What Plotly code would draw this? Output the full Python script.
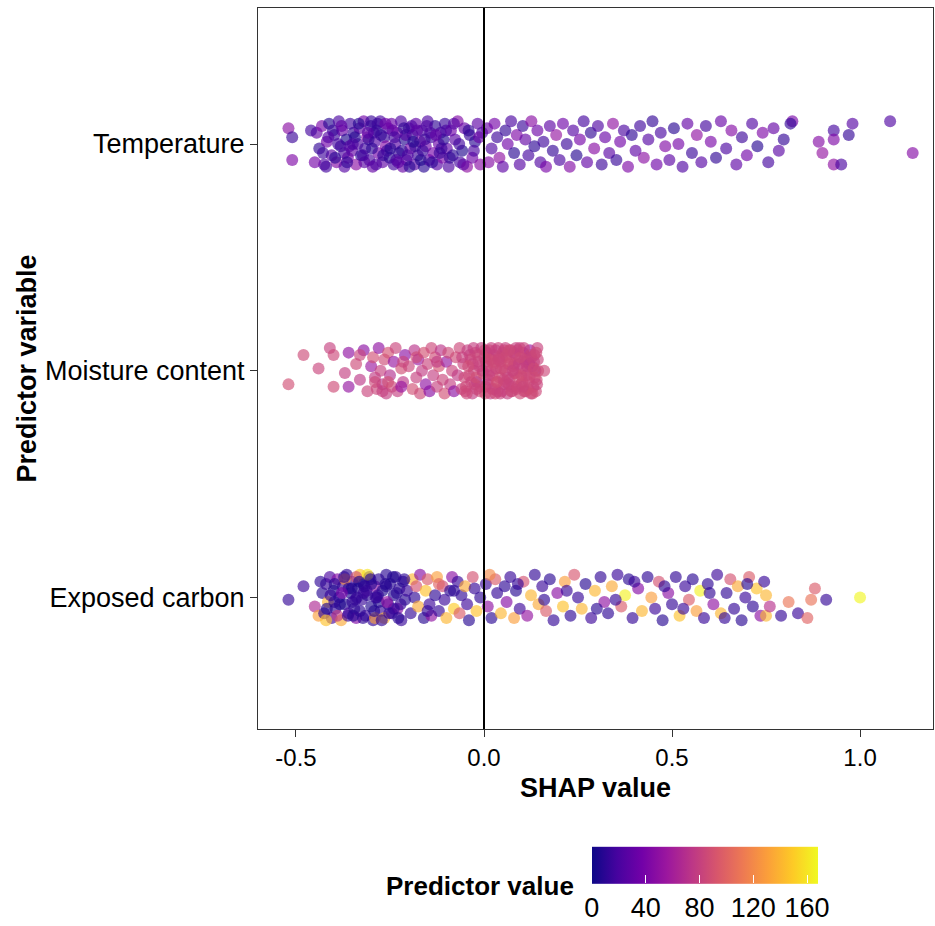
import plotly.graph_objects as go

categories = ["Exposed carbon", "Moisture content", "Temperature"]

# ---------------- Temperature ----------------
temp_shap = [
    -0.445, -0.438, -0.431, -0.425, -0.418, -0.412, -0.405, -0.398, -0.392, -0.386,
    -0.381, -0.377, -0.371, -0.366, -0.362, -0.356, -0.351, -0.347, -0.340, -0.336,
    -0.331, -0.327, -0.320, -0.316, -0.311, -0.305, -0.301, -0.296, -0.290, -0.285,
    -0.281, -0.276, -0.270, -0.266, -0.261, -0.255, -0.251, -0.246, -0.240, -0.236,
    -0.231, -0.226, -0.221, -0.216, -0.211, -0.206, -0.200, -0.196, -0.190, -0.185,
    -0.181, -0.176, -0.170, -0.165, -0.160, -0.155, -0.150, -0.146, -0.140, -0.135,
    -0.130, -0.125, -0.120, -0.115, -0.110, -0.104, -0.099, -0.094, -0.088, -0.083,
    -0.077, -0.070, -0.064, -0.058, -0.052, -0.045, -0.038, -0.031, -0.024, -0.017,
    -0.010, -0.005, -0.402, -0.372, -0.343, -0.318, -0.293, -0.268, -0.243, -0.218,
    -0.193, -0.168, -0.143, -0.118, -0.358, -0.307, -0.258, -0.208, -0.158, -0.108,
    -0.388, -0.233, -0.283, -0.183,
    0.008, 0.012, 0.020, 0.028, 0.035, 0.041, 0.050, 0.057, 0.063, 0.072,
    0.080, 0.087, 0.095, 0.103, 0.110, 0.118, 0.126, 0.134, 0.142, 0.150,
    0.158, 0.165, 0.175, 0.183, 0.192, 0.201, 0.210, 0.220, 0.228, 0.237,
    0.246, 0.255, 0.265, 0.274, 0.284, 0.293, 0.303, 0.313, 0.322, 0.333,
    0.343, 0.352, 0.362, 0.372, 0.383, 0.393, 0.403, 0.415, 0.425, 0.437,
    0.448, 0.459, 0.470, 0.482, 0.493, 0.505, 0.517, 0.528, 0.541, 0.553,
    0.566, 0.578, 0.590, 0.603, 0.617, 0.630, 0.644, 0.658, 0.671, 0.686,
    0.699, 0.713, 0.727, 0.741, 0.756, 0.770, 0.784, 0.797,
    0.820, 0.815, 0.890, 0.900, 0.930, 0.930, 0.930, 0.950, 0.980, 0.970,
    1.080, 1.140, -0.520, -0.510, -0.510, -0.460, -0.450,
    -0.428, -0.414, -0.396, -0.379, -0.364, -0.349, -0.333, -0.322, -0.309, -0.298,
    -0.287, -0.274, -0.262, -0.249, -0.238, -0.228, -0.213, -0.203, -0.188, -0.178,
    -0.163, -0.152, -0.138, -0.128, -0.113, -0.101, -0.091, -0.080, -0.066, -0.055,
    -0.041, -0.027, -0.013, -0.420, -0.300, -0.198,
]
temp_jitter = [
    0.05, -0.02, 0.08, -0.09, 0.01, 0.09, -0.05, 0.04, -0.08, 0.10,
    -0.01, 0.06, -0.10, 0.02, -0.06, 0.09, -0.03, 0.05, -0.09, 0.00,
    0.07, -0.05, 0.10, -0.02, 0.03, -0.07, 0.08, -0.10, 0.01, 0.06,
    -0.04, 0.10, -0.08, 0.03, -0.01, 0.07, -0.06, 0.09, -0.09, 0.00,
    0.05, -0.04, 0.10, -0.10, 0.02, -0.07, 0.07, -0.02, 0.04, -0.09,
    0.09, -0.05, 0.01, 0.06, -0.10, -0.01, 0.10, -0.07, 0.03, -0.04,
    0.08, -0.09, 0.00, 0.05, -0.06, 0.09, -0.02, -0.10, 0.06, -0.05,
    0.02, 0.10, -0.08, -0.03, 0.07, -0.10, 0.04, -0.06, 0.01, 0.09,
    -0.09, 0.05, 0.06, -0.04, 0.03, -0.08, 0.05, -0.05, 0.06, -0.03,
    0.08, -0.07, 0.05, -0.04, -0.01, 0.02, -0.03, 0.04, 0.02, 0.02,
    0.00, -0.07, 0.09, -0.01,
    0.07, -0.08, -0.02, 0.09, 0.03, -0.06, -0.10, 0.06, 0.00, 0.10,
    -0.04, 0.04, -0.09, 0.08, 0.02, -0.05, 0.10, -0.01, 0.06, -0.08,
    0.01, -0.10, 0.08, -0.03, 0.04, -0.07, 0.09, 0.00, -0.10, 0.06,
    -0.05, 0.02, 0.10, -0.08, 0.05, -0.02, 0.08, -0.09, 0.03, -0.04,
    0.09, -0.07, 0.01, 0.06, -0.10, 0.04, -0.03, 0.08, -0.06, 0.02,
    0.10, -0.09, 0.05, -0.01, -0.07, 0.07, 0.00, -0.10, 0.09, -0.04,
    0.04, -0.08, 0.08, 0.01, -0.06, 0.10, -0.02, 0.06, -0.09, 0.03,
    -0.05, 0.09, -0.01, 0.05, -0.08, 0.07, -0.03, 0.02,
    0.10, 0.09, 0.01, -0.04, 0.06, 0.02, -0.09, -0.09, 0.09, 0.04,
    0.10, -0.04, 0.07, 0.03, -0.07, 0.06, -0.08,
    -0.04, 0.03, -0.06, 0.08, -0.08, 0.00, 0.09, -0.05, 0.05, -0.02,
    -0.09, 0.04, 0.09, -0.02, 0.03, -0.08, 0.07, -0.05, 0.01, 0.06,
    -0.03, 0.08, -0.08, 0.04, -0.02, 0.06, -0.06, 0.09, 0.00, -0.09,
    0.06, -0.03, 0.03, -0.10, 0.10, -0.10,
]
temp_value = [
    30, 12, 40, 22, 35, 8, 28, 15, 44, 20,
    10, 33, 25, 6, 38, 18, 30, 12, 48, 22,
    27, 9, 36, 16, 42, 20, 11, 31, 24, 5,
    37, 19, 29, 14, 45, 21, 8, 34, 17, 26,
    40, 13, 23, 32, 7, 28, 18, 39, 12, 25,
    30, 15, 43, 20, 9, 35, 22, 27, 16, 38,
    11, 24, 33, 19, 41, 14, 29, 21, 36, 10,
    26, 44, 18, 6, 31, 50, 13, 35, 9, 28,
    46, 20, 14, 20, 8, 26, 17, 12, 30, 10,
    22, 6, 19, 13, 24, 11, 16, 25, 15, 8,
    18, 20, 14, 12,
    32, 45, 22, 38, 15, 50, 28, 12, 36, 20,
    9, 42, 25, 14, 30, 18, 47, 10, 34, 23,
    16, 40, 27, 12, 52, 20, 35, 14, 44, 24,
    8, 38, 18, 30, 11, 46, 22, 15, 33, 26,
    50, 13, 37, 20, 42, 10, 28, 16, 48, 24,
    12, 35, 19, 44, 27, 9, 38, 22, 31, 14,
    50, 25, 17, 40, 11, 33, 20, 45, 28, 15,
    37, 23, 8, 42, 18, 31, 26, 12,
    40, 12, 45, 52, 18, 42, 50, 20, 25, 12,
    22, 45, 48, 15, 42, 18, 38,
    16, 24, 9, 30, 12, 20, 7, 18, 28, 10,
    22, 13, 35, 9, 17, 26, 11, 20, 8, 27,
    14, 22, 10, 31, 15, 19, 12, 24, 16, 28,
    11, 20, 33, 18, 14, 9,
]

# ---------------- Moisture content ----------------
moist_shap = [
    -0.480, -0.520, -0.440, -0.400, -0.410, -0.400, -0.360, -0.370, -0.360, -0.340,
    -0.330, -0.320, -0.310, -0.300, -0.295, -0.290, -0.285, -0.280, -0.275, -0.270,
    -0.265, -0.260, -0.255, -0.250, -0.245, -0.240, -0.235, -0.230, -0.220, -0.215,
    -0.210, -0.200, -0.190, -0.185, -0.180, -0.175, -0.170, -0.165, -0.160, -0.155,
    -0.150, -0.145, -0.140, -0.135, -0.130, -0.125, -0.120, -0.115, -0.110, -0.105,
    -0.100, -0.095, -0.090, -0.085, -0.080, -0.075, -0.070, -0.065, -0.060,
    -0.290, -0.270, -0.255, -0.220, -0.215, -0.180, -0.125, -0.330,
    -0.055, -0.048, -0.044, -0.040, -0.036, -0.031, -0.027, -0.023, -0.019, -0.015,
    -0.011, -0.007, -0.003, 0.001, 0.004, 0.008, 0.011, 0.014, 0.017, 0.020,
    0.023, 0.026, 0.029, 0.032, 0.035, 0.038, 0.041, 0.044, 0.047, 0.050,
    0.053, 0.056, 0.059, 0.062, 0.065, 0.068, 0.071, 0.074, 0.077, 0.080,
    0.083, 0.086, 0.089, 0.092, 0.095, 0.098, 0.101, 0.104, 0.107, 0.110,
    0.113, 0.116, 0.119, 0.122, 0.125, 0.128, 0.131, 0.134, 0.137, 0.140,
    0.143, 0.160, 0.120,
    -0.052, -0.038, -0.025, -0.012, 0.002, 0.010, 0.018, 0.027, 0.036, 0.045,
    0.054, 0.063, 0.072, 0.081, 0.090, 0.099, 0.108, 0.117, 0.126, 0.135,
    0.142, 0.138, 0.005, 0.030, 0.058, 0.085, 0.112, -0.030, 0.048, 0.096,
    -0.058, -0.050, -0.042, -0.034, -0.028, -0.021, -0.016, -0.009, -0.004, 0.003,
    0.007, 0.013, 0.016, 0.022, 0.025, 0.031, 0.034, 0.040, 0.043, 0.049,
    0.052, 0.057, 0.061, 0.066, 0.070, 0.075, 0.079, 0.084, 0.088, 0.093,
    0.097, 0.102, 0.106, 0.111, 0.115, 0.121, 0.124, 0.129, 0.133, 0.139,
    0.141, 0.144, -0.046, 0.019, 0.067, 0.103, 0.132, -0.020, 0.039, 0.076,
]
moist_jitter = [
    0.07, -0.06, 0.01, -0.07, 0.10, 0.07, 0.08, -0.01, -0.07, 0.03,
    -0.04, 0.09, -0.09, 0.02, 0.06, -0.03, -0.08, 0.10, 0.00, -0.06,
    0.05, -0.10, 0.08, -0.02, -0.07, 0.04, 0.10, -0.09, 0.01, -0.05,
    0.07, 0.02, -0.08, 0.09, -0.03, 0.05, -0.10, 0.00, 0.08, -0.06,
    0.03, -0.09, 0.10, -0.02, 0.06, -0.07, 0.02, 0.09, -0.04, -0.10,
    0.04, 0.08, -0.06, 0.00, -0.09, 0.06, -0.02, 0.10, -0.08,
    -0.05, -0.09, -0.05, -0.07, 0.04, 0.06, 0.04, 0.07,
    0.03, -0.07, 0.09, -0.02, 0.05, -0.10, 0.00, 0.08, -0.05, 0.04,
    -0.09, 0.10, -0.01, 0.06, -0.07, 0.02, -0.04, 0.09, -0.10, 0.05,
    -0.02, 0.07, -0.08, 0.01, -0.05, 0.10, -0.03, 0.04, -0.09, 0.08,
    -0.06, 0.00, 0.06, -0.10, 0.03, -0.04, 0.09, -0.07, 0.02, -0.01,
    0.07, -0.08, 0.05, -0.03, 0.10, -0.06, 0.01, 0.08, -0.09, 0.04,
    -0.02, 0.06, -0.05, 0.09, -0.10, 0.02, -0.07, 0.07, 0.00, -0.04,
    0.05, 0.00, 0.03,
    -0.03, 0.07, -0.06, 0.02, 0.09, -0.06, 0.00, 0.04, -0.09, 0.01,
    0.09, -0.03, -0.09, 0.03, 0.09, -0.02, 0.05, -0.08, 0.06, -0.03,
    0.10, -0.09, 0.04, -0.10, -0.05, 0.10, 0.00, 0.03, 0.06, -0.10,
    0.06, -0.09, 0.02, -0.05, 0.10, -0.03, 0.07, -0.07, 0.00, -0.10,
    0.08, -0.02, 0.05, -0.08, 0.03, 0.09, -0.05, 0.06, -0.10, 0.01,
    -0.04, 0.10, 0.07, -0.06, 0.04, -0.09, 0.08, -0.01, -0.07, 0.03,
    0.06, -0.05, 0.10, -0.09, 0.02, -0.03, 0.07, -0.10, 0.04, 0.08,
    -0.06, 0.00, -0.10, 0.10, 0.09, -0.07, 0.01, -0.08, 0.05, 0.00,
]
moist_value = [
    85, 88, 82, 86, 80, 84, 50, 78, 52, 85,
    74, 48, 82, 55, 88, 76, 83, 50, 80, 72,
    86, 78, 90, 68, 84, 53, 82, 79, 87, 75,
    48, 83, 88, 72, 80, 55, 85, 77, 89, 50,
    82, 46, 84, 78, 86, 80, 90, 73, 83, 88,
    52, 85, 79, 82, 48, 86, 76, 84, 80,
    84, 80, 88, 54, 82, 86, 76, 82,
    82, 86, 79, 84, 90, 77, 83, 87, 50, 81,
    85, 78, 88, 82, 86, 80, 84, 89, 76, 83,
    87, 81, 85, 79, 88, 82, 86, 77, 84, 90,
    80, 85, 83, 78, 87, 82, 86, 81, 84, 88,
    79, 85, 83, 87, 80, 84, 86, 82, 78, 85,
    88, 81, 84, 55, 80, 86, 83, 79, 52, 85,
    82, 84, 54,
    84, 80, 86, 82, 85, 79, 84, 88, 81, 83,
    86, 80, 85, 82, 87, 84, 79, 86, 83, 88,
    81, 84, 83, 86, 82, 80, 85, 81, 84, 86,
    80, 84, 86, 82, 79, 88, 83, 85, 81, 87,
    84, 80, 86, 82, 85, 79, 88, 83, 81, 86,
    84, 80, 85, 82, 87, 83, 81, 86, 84, 79,
    85, 88, 82, 86, 80, 84, 83, 87, 81, 85,
    82, 86, 84, 80, 85, 83, 86, 82, 84, 81,
]

# ---------------- Exposed carbon ----------------
carbon_shap = [
    -0.520, -0.480, -0.450, -0.440, -0.430, -0.425, -0.420, -0.415, -0.410, -0.405,
    -0.400, -0.395, -0.390, -0.385, -0.380, -0.375, -0.370, -0.365, -0.360, -0.355,
    -0.350, -0.345, -0.340, -0.335, -0.330, -0.325, -0.320, -0.315, -0.310, -0.305,
    -0.300, -0.295, -0.290, -0.285, -0.280, -0.275, -0.270, -0.265, -0.260, -0.255,
    -0.250, -0.245, -0.240, -0.235, -0.230, -0.225, -0.220, -0.215, -0.210, -0.205,
    -0.300, -0.350, -0.280, -0.320, -0.260, -0.240, -0.370, -0.310, -0.390, -0.340,
    -0.290, -0.420, -0.360, -0.330,
    -0.195, -0.190, -0.185, -0.180, -0.175, -0.170, -0.160, -0.155, -0.150, -0.145,
    -0.140, -0.130, -0.125, -0.120, -0.110, -0.105, -0.100, -0.090, -0.085, -0.080,
    -0.070, -0.065, -0.060, -0.050, -0.045, -0.040, -0.030, -0.025, -0.020, -0.010,
    0.005, 0.010, 0.020, 0.030, 0.035, 0.045, 0.055, 0.060, 0.070, 0.080,
    0.085, 0.095, 0.105, 0.115, 0.125, 0.135, 0.145, 0.155, 0.165, 0.175,
    0.185, 0.195, 0.210, 0.215, 0.230, 0.240, 0.250, 0.260, 0.270, 0.285,
    0.295, 0.310, 0.320, 0.330, 0.340, 0.355, 0.365, 0.375, 0.385, 0.395,
    0.410, 0.420, 0.435, 0.445, 0.455, 0.465, 0.475, 0.490, 0.500, 0.510,
    0.520, 0.535, 0.545, 0.555, 0.565, 0.575, 0.585, 0.595, 0.610, 0.620,
    0.630, 0.645, 0.655, 0.665, 0.675, 0.685, 0.695, 0.705, 0.715, 0.725,
    0.735, 0.745,
    0.750, 0.750, 0.760, 0.790, 0.810, 0.835, 0.860, 0.870, 0.880, 0.910,
    1.000,
    0.015, 0.090, 0.160, 0.220, 0.300, 0.350, 0.400, 0.480, 0.530, 0.600,
    0.640, 0.700, -0.150, -0.080, -0.120,
    -0.435, -0.418, -0.408, -0.397, -0.383, -0.372, -0.362, -0.352, -0.342, -0.332,
    -0.322, -0.312, -0.302, -0.292, -0.282, -0.272, -0.262, -0.252, -0.242, -0.232,
    -0.222, -0.212, -0.378, -0.348, -0.318, -0.288, -0.258, -0.228, -0.398, -0.338,
]
carbon_jitter = [
    -0.01, 0.05, -0.04, -0.08, 0.02, -0.07, 0.06, -0.02, 0.09, -0.09,
    0.03, -0.05, 0.08, 0.00, -0.10, 0.05, -0.03, 0.10, -0.07, 0.02,
    0.07, -0.05, -0.09, 0.04, 0.10, -0.01, 0.06, -0.08, 0.01, 0.09,
    -0.04, -0.10, 0.05, 0.00, 0.08, -0.06, 0.03, -0.09, 0.10, -0.03,
    0.06, -0.07, 0.01, 0.09, -0.05, 0.04, -0.10, 0.07, -0.01, 0.03,
    0.06, -0.02, -0.02, 0.02, 0.05, -0.05, 0.08, 0.10, -0.08, 0.09,
    -0.09, -0.10, 0.04, -0.06,
    -0.07, 0.08, 0.00, 0.05, -0.04, 0.10, -0.09, 0.03, 0.08, -0.03,
    -0.08, 0.01, 0.09, -0.06, 0.05, -0.01, -0.09, 0.03, 0.09, -0.05,
    0.07, -0.07, 0.01, 0.05, -0.03, -0.10, 0.09, 0.04, -0.06, 0.00,
    0.06, -0.04, -0.09, 0.08, 0.02, -0.07, 0.05, -0.02, 0.09, -0.09,
    0.03, -0.05, 0.07, -0.08, 0.01, 0.10, -0.03, 0.05, -0.06, 0.08,
    -0.10, 0.02, -0.04, 0.07, -0.08, 0.10, 0.00, -0.05, 0.06, -0.09,
    0.03, 0.09, -0.02, -0.07, 0.05, 0.10, -0.04, 0.01, 0.08, -0.09,
    0.04, -0.06, 0.09, 0.00, -0.05, 0.07, -0.10, 0.02, -0.03, 0.09,
    -0.08, 0.05, -0.01, 0.08, -0.06, 0.03, -0.09, 0.06, -0.03, 0.10,
    -0.07, 0.02, 0.08, -0.05, 0.05, -0.10, 0.00, 0.09, -0.04, 0.04,
    -0.08, 0.07,
    0.01, -0.08, -0.04, -0.08, -0.02, -0.07, -0.09, -0.01, 0.04, -0.01,
    0.00,
    0.10, 0.06, -0.01, 0.03, -0.05, -0.01, 0.07, 0.05, -0.05, 0.02,
    -0.09, 0.06, -0.06, 0.03, 0.06,
    0.07, -0.05, 0.01, 0.06, -0.03, 0.09, -0.08, 0.04, -0.01, 0.07,
    -0.09, 0.03, 0.08, -0.06, 0.01, -0.10, 0.06, -0.07, 0.09, 0.02,
    -0.03, 0.08, 0.02, -0.08, 0.05, 0.00, -0.02, -0.09, -0.02, 0.00,
]
carbon_value = [
    12, 15, 65, 130, 8, 10, 14, 140, 20, 18,
    5, 12, 45, 9, 135, 15, 7, 11, 20, 6,
    14, 10, 42, 8, 150, 13, 5, 17, 9, 12,
    6, 11, 48, 7, 10, 14, 5, 140, 9, 12,
    8, 16, 6, 11, 45, 10, 13, 7, 9, 14,
    8, 11, 6, 15, 9, 12, 125, 160, 75, 90,
    130, 145, 8, 10,
    12, 140, 10, 90, 135, 45, 8, 145, 95, 15,
    50, 10, 130, 12, 85, 14, 140, 9, 48, 150,
    13, 95, 11, 135, 15, 8, 90, 12, 145, 10,
    14, 50, 9, 95, 12, 140, 10, 45, 13, 130,
    8, 15, 90, 52, 140, 11, 135, 14, 95, 9,
    12, 48, 145, 130, 10, 92, 13, 140, 8, 15,
    140, 11, 50, 10, 135, 14, 95, 165, 9, 12,
    45, 140, 10, 130, 15, 90, 8, 48, 12, 11,
    145, 14, 95, 9, 130, 165, 13, 10, 50, 15,
    140, 11, 90, 12, 135, 9, 14, 95, 10, 145,
    48, 13,
    140, 140, 70, 12, 110, 14, 100, 108, 95, 12,
    167,
    120, 12, 10, 13, 9, 12, 14, 10, 13, 11,
    12, 8, 12, 10, 100,
    10, 7, 13, 9, 6, 11, 14, 8, 12, 5,
    10, 15, 9, 7, 12, 11, 8, 13, 6, 9,
    12, 10, 40, 8, 11, 14, 50, 9, 10, 12,
]

# combine (y positions = category index + vertical jitter)
xs, ys, cs = [], [], []
for idx, (sv, jt, pv) in enumerate([(carbon_shap, carbon_jitter, carbon_value),
                                     (moist_shap, moist_jitter, moist_value),
                                     (temp_shap, temp_jitter, temp_value)]):
    n = min(len(sv), len(jt), len(pv))
    for k in range(n):
        xs.append(sv[k])
        ys.append(idx + 1 + jt[k])
        cs.append(pv[k])

FONT = "Arial, 'Liberation Sans', sans-serif"

fig = go.Figure()
fig.add_trace(go.Scatter(
    x=xs, y=ys, mode="markers",
    marker=dict(
        size=12, color=cs, colorscale="Plasma", cmin=0, cmax=168, opacity=0.64,
        line=dict(width=0),
        colorbar=dict(
            orientation="h", lenmode="pixels", len=226, thickness=37,
            x=0.662, xanchor="center", y=-0.222, yanchor="middle",
            xpad=0, ypad=0, outlinewidth=0,
            tickvals=[0, 40, 80, 120, 160], ticktext=["0", "40", "80", "120", "160"],
            ticks="inside", ticklen=8, tickcolor="white", tickwidth=1,
            tickfont=dict(family=FONT, size=27, color="black"),
        ),
    ),
    showlegend=False, hoverinfo="skip",
))

fig.add_shape(type="line", x0=0, x1=0, y0=0, y1=1, xref="x", yref="paper",
              line=dict(color="black", width=2), layer="above")

fig.add_annotation(text="<b>Predictor value</b>", x=0.329, xref="paper", xanchor="center",
                   y=-0.218, yref="paper", yanchor="middle", showarrow=False,
                   font=dict(family=FONT, size=26, color="black"))

fig.update_layout(
    width=935, height=926,
    margin=dict(l=258, r=2, t=8, b=197, autoexpand=False),
    plot_bgcolor="white", paper_bgcolor="white",
    font=dict(family=FONT, color="black"),
    xaxis=dict(
        range=[-0.601, 1.194], tickvals=[-0.5, 0.0, 0.5, 1.0],
        ticktext=["-0.5", "0.0", "0.5", "1.0"],
        showgrid=False, zeroline=False, showline=True, mirror=True,
        linecolor="#333333", linewidth=1,
        ticks="outside", ticklen=7, tickcolor="#333333",
        tickfont=dict(family=FONT, size=24, color="black"),
        title=dict(text="<b>SHAP value</b>", font=dict(family=FONT, size=27, color="black"), standoff=8),
    ),
    yaxis=dict(
        range=[0.42, 3.6], tickvals=[1, 2, 3], ticktext=categories,
        showgrid=False, zeroline=False, showline=True, mirror=True,
        linecolor="#333333", linewidth=1,
        ticks="outside", ticklen=7, tickcolor="#333333",
        tickfont=dict(family=FONT, size=27, color="black"),
        title=dict(text="<b>Predictor variable</b>", font=dict(family=FONT, size=27, color="black"), standoff=0),
    ),
)

fig.write_html("out.html")
